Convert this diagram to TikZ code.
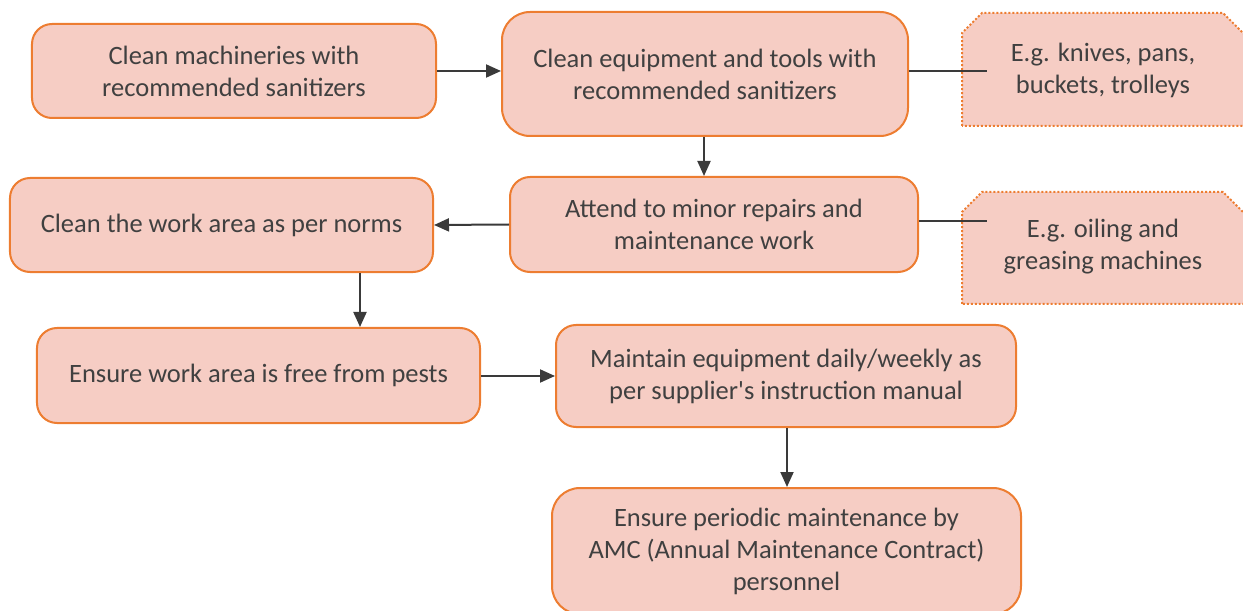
\documentclass[tikz,border=0pt]{standalone}
\usepackage{fontspec}
\setmainfont{Carlito}
\usetikzlibrary{arrows.meta}
\definecolor{boxfill}{RGB}{246,205,196}
\definecolor{boxline}{RGB}{237,125,49}
\definecolor{txt}{RGB}{64,64,64}
\definecolor{arr}{RGB}{58,58,58}
\tikzset{
  stepbox/.style={draw=boxline, line width=2bp, fill=boxfill, rounded corners=20bp,
    align=center, text=txt, inner sep=0pt,
    font=\fontsize{26.5bp}{32bp}\selectfont},
  noteshape/.style={draw=boxline, line width=2bp, dotted, fill=boxfill},
  notetext/.style={align=center, text=txt, inner sep=0pt,
    font=\fontsize{26.5bp}{32bp}\selectfont},
  flow/.style={draw=arr, line width=2bp, -{Triangle[length=15bp,width=13bp]}},
  link/.style={draw=arr, line width=2bp}
}
\begin{document}
\begin{tikzpicture}[x=1bp,y=-1bp]
\useasboundingbox (0,0) rectangle (1243,611);
\node[stepbox, minimum width=404bp, minimum height=94bp] (A) at (234,71) {Clean machineries with\\recommended sanitizers};
\node[stepbox, rounded corners=28bp, minimum width=406bp, minimum height=124bp] (B) at (705,74) {Clean equipment and tools with\\recommended sanitizers};
\node[stepbox, minimum width=408bp, minimum height=95bp] (C) at (714,224.5) {Attend to minor repairs and\\maintenance work};
\node[stepbox, minimum width=423bp, minimum height=94bp] (D) at (221.5,225) {Clean the work area as per norms};
\node[stepbox, minimum width=443bp, minimum height=95bp] (E) at (258.5,375.5) {Ensure work area is free from pests};
\node[stepbox, minimum width=460bp, minimum height=102bp] (F) at (786,376) {Maintain equipment daily/weekly as\\per supplier\textquotesingle s instruction manual};
\node[stepbox, rounded corners=28bp, minimum width=469bp, minimum height=126bp] (G) at (786.5,551) {Ensure periodic maintenance by\\AMC (Annual Maintenance Contract)\\personnel};
% callout shapes
\path[noteshape] (962,126) -- (962,33) -- (982,13) -- (1223,13) -- (1243,33) -- (1245,35) -- (1245,126) -- cycle;
\path[noteshape] (962,304) -- (962,212) -- (982,192) -- (1223,192) -- (1243,212) -- (1245,214) -- (1245,304) -- cycle;
\coordinate (n1end) at (987,71);
\coordinate (n2end) at (987,221);
\draw[link] (B.east |- n1end) -- (n1end);
\draw[link] (C.east |- n2end) -- (n2end);
\node[notetext] (N1) at (1103,70) {E.g. knives, pans,\\buckets, trolleys};
\node[notetext] (N2) at (1103,247) {E.g. oiling and\\greasing machines};
\draw[flow] (A.east |- 0,71) -- (B.west |- 0,71);
\draw[flow] (B.south -| 704,0) -- (C.north -| 704,0);
\draw[flow] (C.west) -- (D.east);
\draw[flow] (D.south -| 360,0) -- (E.north -| 360,0);
\draw[flow] (E.east |- 0,376) -- (F.west |- 0,376);
\draw[flow] (F.south -| 787,0) -- (G.north -| 787,0);
\end{tikzpicture}
\end{document}
